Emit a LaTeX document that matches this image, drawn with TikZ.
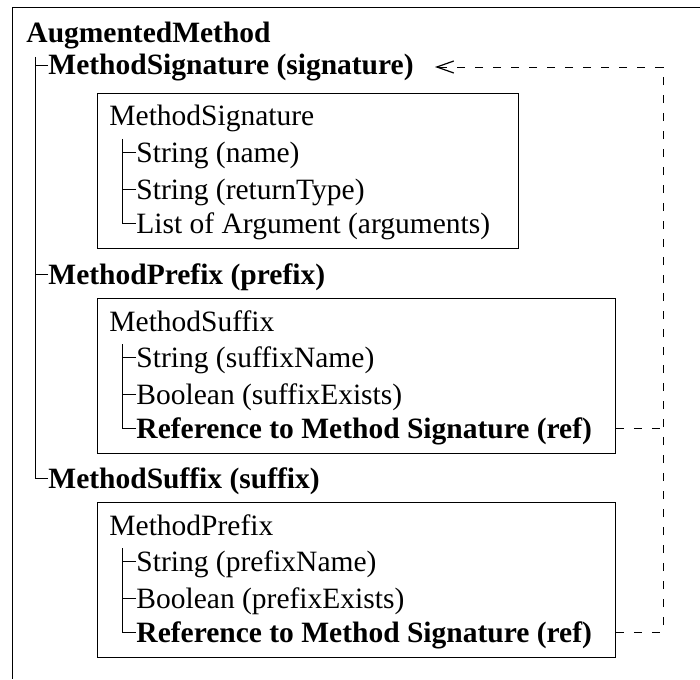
\documentclass[tikz,border=0pt]{standalone}
\usepackage{fontspec}
\setmainfont{Liberation Serif}
\usetikzlibrary{arrows.meta}
\begin{document}
\begin{tikzpicture}[x=1pt,y=-1pt,line width=0.9pt,
  txt/.style={anchor=base west,inner sep=0pt,font=\fontsize{29.5}{36}\selectfont},
  btxt/.style={anchor=base west,inner sep=0pt,font=\fontsize{29.5}{36}\selectfont\bfseries},
  boxstyle/.style={draw,line width=0.9pt,anchor=north west,inner sep=0pt,minimum height=155pt},
  refline/.style={dash pattern=on 8pt off 10pt,line width=0.9pt}]
\useasboundingbox (0,0) rectangle (700,679);
% outer frame (cropped)
\draw (700,7) -- (12,7) -- (12,679);
\node[btxt] (am) at (26,43) {AugmentedMethod};
\node[btxt] (sig) at (48,75) {MethodSignature (signature)};
\node[btxt] (pre) at (48,284) {MethodPrefix (prefix)};
\node[btxt] (suf) at (48,488) {MethodSuffix (suffix)};
% outer tree
\coordinate (t0) at (35,57);
\draw (t0) |- ([yshift=10pt]suf.base west);
\draw ([yshift=10pt]sig.base west) -- ++(-13,0);
\draw ([yshift=10pt]pre.base west) -- ++(-13,0);
% box 1
\node[boxstyle,minimum width=421pt] (box1) at (97,93) {};
\node[txt] (ms1) at (109,126) {MethodSignature};
\node[txt] (a1) at (136,162) {String (name)};
\node[txt] (b1) at (136,199) {String (returnType)};
\node[txt] (c1t) at (136,233) {List of Argument (arguments)};
\coordinate (s1) at (122,139);
\draw (s1) |- ([yshift=10pt]c1t.base west);
\draw ([yshift=10pt]a1.base west) -- ++(-14,0);
\draw ([yshift=10pt]b1.base west) -- ++(-14,0);
% box 2
\node[boxstyle,minimum width=518pt] (box2) at (97,298) {};
\node[txt] (ms2) at (109,331) {MethodSuffix};
\node[txt] (a2) at (136,367) {String (suffixName)};
\node[txt] (b2) at (136,404) {Boolean (suffixExists)};
\node[btxt] (r2) at (136,438) {Reference to Method Signature (ref)};
\coordinate (s2) at (122,344);
\draw (s2) |- ([yshift=10pt]r2.base west);
\draw ([yshift=10pt]a2.base west) -- ++(-14,0);
\draw ([yshift=10pt]b2.base west) -- ++(-14,0);
% box 3
\node[boxstyle,minimum width=518pt] (box3) at (97,502) {};
\node[txt] (ms3) at (109,535) {MethodPrefix};
\node[txt] (a3) at (136,571) {String (prefixName)};
\node[txt] (b3) at (136,608) {Boolean (prefixExists)};
\node[btxt] (r3) at (136,642) {Reference to Method Signature (ref)};
\coordinate (s3) at (122,548);
\draw (s3) |- ([yshift=10pt]r3.base west);
\draw ([yshift=10pt]a3.base west) -- ++(-14,0);
\draw ([yshift=10pt]b3.base west) -- ++(-14,0);
% reference connectors
\coordinate (r2b) at ([yshift=10pt]r2.base west);
\coordinate (r3b) at ([yshift=10pt]r3.base west);
\coordinate (cc) at (663,67);
\coordinate (tip) at (435,67);
\draw[refline,-{Straight Barb[length=17pt,width=12pt,line width=1.2pt]}] (box3.east |- r3b) -| (cc) -- (tip);
\draw[refline] (box2.east |- r2b) -- (cc |- r2b);
\end{tikzpicture}
\end{document}
